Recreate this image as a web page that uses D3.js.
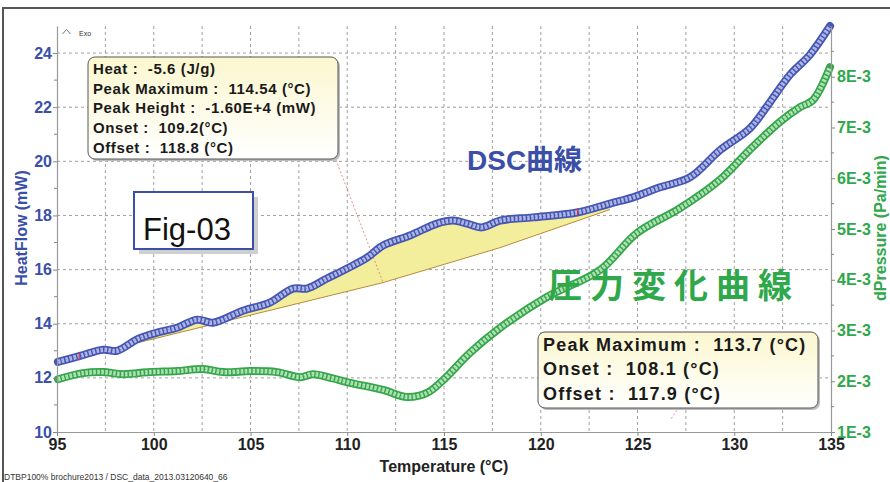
<!DOCTYPE html>
<html>
<head>
<meta charset="utf-8">
<script src="https://cdn.jsdelivr.net/npm/d3@7/dist/d3.min.js"></script>
<style>
  body { margin: 0; background: #fff; }
  svg { display: block; font-family: "Liberation Sans", Arial, sans-serif; }
</style>
</head>
<body>
<svg id="chart" width="890" height="482"></svg>
<script>
// DSC heat-flow trace (°C, mW)
const dscTemp = [95.05, 96.19, 97.38, 98.10, 99.19, 100.32, 101.20, 102.24, 103.06, 104.61,
  106.00, 107.20, 107.92, 108.95, 109.99, 111.02, 111.85, 113.24, 114.64, 115.47,
  116.19, 116.96, 117.89, 119.60, 121.87, 123.58, 124.77, 126.16, 127.71, 129.26,
  130.81, 131.85, 132.87, 133.90, 134.95];
const dscHeatFlow = [12.59, 12.81, 13.04, 13.00, 13.44, 13.70, 13.85, 14.15, 14.04, 14.48,
  14.78, 15.30, 15.30, 15.67, 16.04, 16.44, 16.89, 17.26, 17.70, 17.81,
  17.70, 17.56, 17.81, 17.93, 18.11, 18.44, 18.67, 19.04, 19.41, 20.41,
  21.22, 22.19, 23.19, 23.93, 25.00];

// Pressure-change trace (°C, 1E-3 Pa/min)
const prsTemp = [95.05, 96.34, 97.38, 98.41, 99.81, 101.2, 102.55, 103.58, 105.0, 106.37,
  107.56, 108.23, 109.2, 110.14, 111.85, 113.09, 114.12, 114.95, 116.34, 117.89,
  120.32, 123.06, 124.97, 127.2, 129.26, 130.8, 132.36, 133.4, 134.07, 134.95];
const prsValue = [2.04, 2.16, 2.18, 2.14, 2.18, 2.20, 2.24, 2.18, 2.20, 2.18,
  2.08, 2.14, 2.06, 1.97, 1.83, 1.69, 1.77, 2.02, 2.56, 3.05,
  3.66, 4.19, 4.92, 5.41, 5.97, 6.56, 7.11, 7.40, 7.54, 8.19];

// Integration baseline under the DSC peak
const baseTemp = [99.19, 111.85, 117.89, 123.58];
const baseHeatFlow = [13.30, 15.52, 16.81, 18.22];

// Axis ticks
const xTicks = [95, 100, 105, 110, 115, 120, 125, 130, 135];
const xGrid = [97.5, 100, 102.5, 105, 107.5, 110, 112.5, 115, 117.5, 120, 122.5, 125, 127.5, 130, 132.5];
const yLeftTicks = [10, 12, 14, 16, 18, 20, 22, 24];
const yLeftMinor = [11, 13, 15, 17, 19, 21, 23];
const yRightTicks = [1, 2, 3, 4, 5, 6, 7, 8];
const yRightMinor = [1.5, 2.5, 3.5, 4.5, 5.5, 6.5, 7.5, 8.5];

// Annotation texts
const peakInfoDsc = ["Heat :  -5.6 (J/g)", "Peak Maximum :  114.54 (°C)", "Peak Height :  -1.60E+4 (mW)",
  "Onset :  109.2(°C)", "Offset :  118.8 (°C)"];
const peakInfoPrs = ["Peak Maximum :  113.7 (°C)", "Onset :  108.1 (°C)", "Offset :  117.9 (°C)"];
const eventMarks = [96.15, 121.9];

const BLUE = "#3b4fa8", GREEN = "#2ea84a";

const svg = d3.select("#chart");
const x = d3.scaleLinear([95, 135], [57, 831]);
const yL = d3.scaleLinear([10, 25], [432, 26]);
const yR = d3.scaleLinear([1, 9], [432, 26]);

// outer frame
svg.append("path").attr("d", "M3,483 V8 H891").attr("fill", "none")
  .attr("stroke", "#555").attr("stroke-width", 2);

// grid
const grid = svg.append("g").attr("stroke", "#a0a0a0").attr("stroke-width", 1).attr("stroke-dasharray", "3,3");
grid.selectAll("line.v").data(xGrid).join("line").attr("class", "v")
  .attr("x1", d => x(d)).attr("x2", d => x(d)).attr("y1", yL(25)).attr("y2", yL(10));
grid.selectAll("line.h").data(yLeftTicks.filter(d => d > 10)).join("line").attr("class", "h")
  .attr("x1", x(95)).attr("x2", x(135)).attr("y1", d => yL(d)).attr("y2", d => yL(d));

// Exo marker
svg.append("path").attr("d", "M62.5,34 L66.5,29.5 L70.5,34").attr("fill", "none").attr("stroke", "#555").attr("stroke-width", 0.8);
svg.append("text").attr("x", 79).attr("y", 36).attr("font-size", 7).attr("fill", "#333").text("Exo");

// peak area between curve and baseline
const area = dscTemp.map((t, i) => [t, dscHeatFlow[i]]).filter(d => d[0] >= baseTemp[0] && d[0] <= baseTemp[baseTemp.length - 1]);
const baseline = baseTemp.map((t, i) => [t, baseHeatFlow[i]]);
const poly = area.concat(baseline.slice().reverse());
svg.append("path").attr("d", d3.line().x(d => x(d[0])).y(d => yL(d[1]))(poly) + "Z")
  .attr("fill", "#f3ee9c").attr("stroke", "none");
svg.append("path").attr("d", d3.line().x(d => x(d[0])).y(d => yL(d[1]))(baseline))
  .attr("fill", "none").attr("stroke", "#b88a3c").attr("stroke-width", 1);

// leader lines
svg.append("line").attr("x1", 336).attr("y1", 160).attr("x2", x(111.85)).attr("y2", yL(15.52))
  .attr("stroke", "#e07070").attr("stroke-width", 0.8).attr("stroke-dasharray", "2,2");
svg.append("line").attr("x1", 679).attr("y1", 407).attr("x2", 671).attr("y2", 419)
  .attr("stroke", "#e07070").attr("stroke-width", 0.8).attr("stroke-dasharray", "2,2");

// traces drawn as dense ring markers
function trace(xs, ys, yScale, dark, light) {
  const pts = xs.map((t, i) => [x(t), yScale(ys[i])]);
  const line = d3.line().curve(d3.curveCatmullRom.alpha(0.5));
  const g = svg.append("g").attr("fill", "none").attr("stroke-linejoin", "round");
  g.append("path").attr("d", line(pts)).attr("stroke", dark).attr("stroke-width", 8).attr("stroke-linecap", "round");
  g.append("path").attr("d", line(pts)).attr("stroke", light).attr("stroke-width", 4.5).attr("stroke-dasharray", "2.6,1.4");
  g.append("path").attr("d", line(pts)).attr("stroke", dark).attr("stroke-width", 1).attr("stroke-opacity", 0.5)
    .attr("stroke-dasharray", "1,3");
}
trace(prsTemp, prsValue, yR, "#35a64a", "#b4e2ba");
trace(dscTemp, dscHeatFlow, yL, "#4556b3", "#b2b9e6");

// onset / offset markers on the DSC trace
const dscAt = t => d3.scaleLinear(dscTemp, dscHeatFlow)(t);
svg.selectAll("line.ev").data(eventMarks).join("line").attr("class", "ev")
  .attr("x1", d => x(d)).attr("x2", d => x(d))
  .attr("y1", d => yL(dscAt(d)) - 4).attr("y2", d => yL(dscAt(d)) + 4)
  .attr("stroke", "#d03040").attr("stroke-width", 1);

// axes
function styleAxis(g, color) {
  g.select(".domain").attr("stroke", "#999").attr("stroke-width", 1.2);
  g.selectAll(".tick line").attr("stroke", "#888");
  g.selectAll(".tick text").attr("fill", color).attr("font-weight", "bold").attr("font-size", 16)
    .attr("font-family", '"Liberation Sans", Arial, sans-serif');
}
const axL = svg.append("g").attr("transform", `translate(${x(95)},0)`)
  .call(d3.axisLeft(yL).tickValues(yLeftTicks).tickSize(4).tickPadding(1).tickSizeOuter(0));
styleAxis(axL, BLUE);
axL.selectAll(".minor").data(yLeftMinor).join("line").attr("class", "minor")
  .attr("x1", -3).attr("x2", 0).attr("y1", d => yL(d)).attr("y2", d => yL(d)).attr("stroke", "#888");

const axR = svg.append("g").attr("transform", `translate(${x(135)},0)`)
  .call(d3.axisRight(yR).tickValues(yRightTicks).tickSize(4).tickPadding(2).tickSizeOuter(0)
    .tickFormat(d => d + "E-3"));
styleAxis(axR, GREEN);
axR.selectAll(".minor").data(yRightMinor).join("line").attr("class", "minor")
  .attr("x1", 0).attr("x2", 3).attr("y1", d => yR(d)).attr("y2", d => yR(d)).attr("stroke", "#888");

const axB = svg.append("g").attr("transform", `translate(0,${yL(10)})`)
  .call(d3.axisBottom(x).tickValues(xTicks).tickSize(4).tickPadding(3).tickSizeOuter(0));
styleAxis(axB, "#222");

// axis titles
svg.append("text").attr("transform", `translate(27,228) rotate(-90)`).attr("text-anchor", "middle")
  .attr("font-weight", "bold").attr("font-size", 16).attr("fill", BLUE).text("HeatFlow (mW)");
svg.append("text").attr("transform", `translate(886,228) rotate(-90)`).attr("text-anchor", "middle")
  .attr("font-weight", "bold").attr("font-size", 16).attr("fill", GREEN).text("dPressure (Pa/min)");
svg.append("text").attr("x", 444).attr("y", 472).attr("text-anchor", "middle")
  .attr("font-weight", "bold").attr("font-size", 16).attr("fill", "#222").text("Temperature (°C)");

// source path
svg.append("text").attr("x", 4).attr("y", 479.5).attr("font-size", 8.5).attr("fill", "#333")
  .text("DTBP100% brochure2013 / DSC_data_2013.03120640_66");

// annotation boxes
const defs = svg.append("defs");
const grad = defs.append("linearGradient").attr("id", "boxFill").attr("x1", 0).attr("y1", 0).attr("x2", 0).attr("y2", 1);
grad.append("stop").attr("offset", "0%").attr("stop-color", "#fbf7cf");
grad.append("stop").attr("offset", "100%").attr("stop-color", "#ffffff");

function infoBox(x0, y0, w, h, lines, size, spacing, first, gap) {
  svg.append("rect").attr("x", x0 + 2).attr("y", y0 + 2).attr("width", w).attr("height", h).attr("rx", 7)
    .attr("fill", "#bdbdbd");
  svg.append("rect").attr("x", x0).attr("y", y0).attr("width", w).attr("height", h).attr("rx", 7)
    .attr("fill", "url(#boxFill)").attr("stroke", "#555").attr("stroke-width", 1);
  svg.append("g").selectAll("text").data(lines).join("text")
    .attr("x", x0 + 5).attr("y", (d, i) => y0 + first + i * gap)
    .attr("font-size", size).attr("font-weight", "bold").attr("fill", "#1a1a1a")
    .attr("letter-spacing", spacing).style("white-space", "pre").text(d => d);
}
infoBox(88, 57, 250, 102, peakInfoDsc, 15, 0.6, 17, 19.7);
infoBox(538, 332, 280, 76, peakInfoPrs, 18, 1.2, 18.5, 24.8);

// figure tag
svg.append("rect").attr("x", 139).attr("y", 197).attr("width", 119).attr("height", 57).attr("fill", "#cfcfcf");
svg.append("rect").attr("x", 134).attr("y", 192).attr("width", 119).attr("height", 57)
  .attr("fill", "#fff").attr("stroke", BLUE).attr("stroke-width", 2);
svg.append("text").attr("x", 143).attr("y", 240).attr("font-size", 31).attr("fill", "#111").text("Fig-03");

// curve labels
svg.append("text").attr("x", 467).attr("y", 170).attr("font-size", 28).attr("font-weight", "bold")
  .attr("font-family", '"Liberation Sans", "Noto Sans CJK JP", sans-serif').attr("fill", BLUE).text("DSC曲線");
svg.append("text").attr("x", 548).attr("y", 298).attr("font-size", 34).attr("font-weight", "bold")
  .attr("letter-spacing", 8)
  .attr("font-family", '"Noto Sans CJK JP", sans-serif').attr("fill", GREEN).text("圧力変化曲線");
</script>
</body>
</html>
